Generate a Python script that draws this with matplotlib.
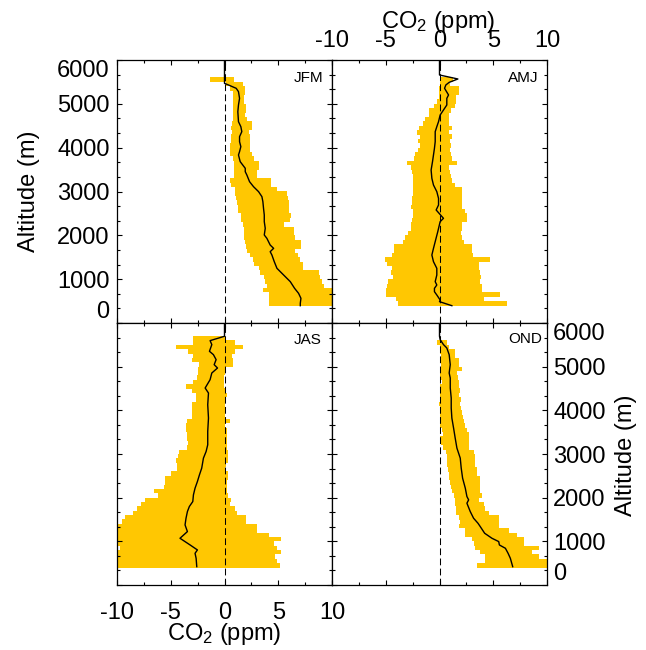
import numpy as np
import matplotlib
matplotlib.use("Agg")
import matplotlib.pyplot as plt
from matplotlib.ticker import MultipleLocator

plt.rcParams['font.family'] = ['Liberation Sans', 'DejaVu Sans']
plt.rcParams['mathtext.fontset'] = 'custom'
plt.rcParams['mathtext.rm'] = 'Liberation Sans'
plt.rcParams['mathtext.it'] = 'Liberation Sans:italic'
plt.rcParams['axes.unicode_minus'] = False

# ---------------- data ----------------
# altitude bins (m), 100 m wide, listed top -> bottom (bin centres)
bins_52 = np.arange(5550, 400, -100)   # 5550 ... 450
bins_53 = np.arange(5650, 400, -100)   # 5650 ... 450

# JFM range (ppm), left / right edge of the yellow band per bin
jfm_lo = [-1.34, 0.10, 0.53, 0.78, 0.78, 0.78, 0.78, 0.78, 0.78, 0.78,
          0.68, 0.62, 0.68, 0.59, 0.62, 0.53, 0.53, 0.53, 0.75, 0.84,
          0.84, 0.84, 0.93, 0.47, 0.59, 0.99, 0.99, 1.09, 1.15, 1.24,
          1.30, 1.55, 1.55, 1.71, 1.77, 1.77, 1.86, 1.93, 2.02, 2.08,
          2.39, 2.64, 2.70, 3.17, 3.32, 3.63, 3.79, 3.94, 3.54, 4.10,
          4.10, 4.10]
jfm_hi = [0.93, 1.70, 1.93, 1.93, 1.77, 1.77, 2.02, 2.02, 1.93, 2.08,
          2.55, 2.55, 2.24, 2.39, 2.33, 2.39, 2.39, 2.55, 2.76, 3.17,
          3.23, 3.01, 3.01, 4.35, 4.35, 4.88, 5.81, 5.87, 5.96, 5.96,
          5.96, 6.21, 6.12, 5.50, 6.43, 6.43, 6.58, 7.11, 7.11, 6.58,
          6.80, 7.05, 7.27, 7.27, 8.82, 8.91, 9.07, 9.22, 10.5, 10.5,
          10.5, 10.5]
jfm_mean_alt = [6000, 5468, 5430, 5354, 5278, 5125, 4973, 4821, 4593, 4479,
                4365, 4251, 4137, 4023, 3909, 3833, 3681, 3529, 3452, 3376,
                3224, 3110, 2996, 2882, 2768, 2616, 2464, 2312, 2160, 2008,
                1932, 1779, 1703, 1627, 1551, 1399, 1247, 1095, 943, 791,
                677, 563, 449, 395]
jfm_mean = [0, 0, 0.37, 1.09, 1.30, 1.40, 1.30, 1.24, 1.30, 1.52,
            1.61, 1.40, 1.40, 1.52, 1.40, 1.30, 1.46, 1.93, 1.93, 2.08,
            2.33, 2.70, 3.17, 3.48, 3.57, 3.63, 3.70, 3.70, 3.79, 3.70,
            3.94, 4.25, 4.57, 4.25, 4.41, 4.63, 4.88, 5.50, 6.12, 6.52,
            6.89, 7.11, 7.05, 7.05]

# AMJ
amj_lo = [0.00, 0.00, -0.09, -0.09, -0.09, -0.25, -0.47, -1.02, -1.02, -1.34,
          -1.58, -1.89, -2.11, -1.86, -2.02, -1.80, -1.96, -2.27, -2.33, -2.98,
          -2.64, -2.58, -2.42, -2.48, -2.42, -2.48, -2.48, -2.58, -2.52, -2.64,
          -2.48, -2.42, -2.52, -2.64, -2.64, -2.89, -3.20, -3.35, -4.22, -4.19,
          -4.44, -5.06, -4.91, -4.44, -4.50, -4.35, -4.75, -4.91, -4.97, -4.97,
          -4.04, -3.88]
amj_hi = [1.30, 1.00, 1.77, 1.83, 1.55, 1.55, 1.46, 1.09, 0.90, 0.84,
          0.84, 1.15, 0.84, 1.15, 0.99, 1.09, 0.99, 1.09, 1.15, 1.61,
          0.84, 0.99, 1.09, 1.15, 1.46, 2.08, 2.08, 2.08, 2.08, 2.08,
          2.39, 2.55, 2.55, 2.08, 2.08, 2.02, 2.08, 2.24, 3.01, 3.01,
          3.07, 4.72, 3.70, 3.70, 3.79, 3.88, 3.79, 3.94, 3.94, 5.65,
          4.10, 6.27]
amj_mean_alt = [6000, 5658, 5567, 5490, 5430, 5354, 5202, 5125, 4973, 4859,
                4745, 4593, 4479, 4365, 4137, 3985, 3681, 3490, 3300, 3148,
                2996, 2844, 2692, 2578, 2388, 2312, 2084, 1856, 1703, 1551,
                1399, 1247, 1095, 943, 867, 791, 715, 639, 525, 487, 395]
amj_mean = [0, 0, 1.71, 0.90, 0.59, 0.47, 0.84, 0.68, 0.68, 0.37,
            0.06, -0.09, -0.25, -0.40, -0.40, -0.47, -0.65, -0.78, -0.71, -0.56,
            -0.25, -0.09, -0.09, -0.31, 0.37, 0.06, -0.16, -0.40, -0.56, -0.71,
            -0.56, -0.25, -0.25, -0.40, -0.25, -0.47, -0.47, -0.25, 0.06, 0.0,
            1.15]

# JAS
jas_lo = [-2.89, -2.89, -4.51, -3.36, -2.89, -3.05, -2.33, -2.43, -2.49, -2.52,
          -2.89, -3.58, -3.05, -2.64, -2.64, -3.05, -3.05, -3.05, -3.05, -3.45,
          -3.58, -3.58, -3.45, -3.51, -3.36, -3.45, -4.20, -4.29, -4.51, -4.45,
          -4.45, -4.98, -5.54, -5.54, -5.63, -6.56, -6.16, -7.40, -7.78, -8.18,
          -8.55, -9.27, -9.58, -10.5, -10.5, -10.5, -10.5, -10.5, -9.74, -9.89,
          -10.5, -10.5, -10.5]
jas_hi = [0.06, 1.00, 1.71, 1.00, 0.68, 0.78, 0.78, 0.06, 0.06, -0.03,
          -0.03, -0.03, 0.16, 0.22, 0.00, 0.00, 0.00, 0.00, 0.00, 0.53,
          0.06, 0.22, 0.22, 0.22, 0.22, 0.22, 0.37, 0.37, 0.37, 0.16,
          0.06, 0.37, 0.37, 0.22, 0.22, 0.22, 0.37, 0.59, 0.53, 1.00,
          1.15, 2.02, 2.02, 3.02, 3.02, 4.10, 5.26, 4.57, 4.88, 5.26,
          4.73, 4.88, 5.19]
jas_mean_alt = [6000, 5696, 5596, 5505, 5352, 5275, 5161, 5046, 4969, 4855,
                4702, 4511, 4396, 4128, 3823, 3517, 3211, 3058, 2905, 2676,
                2523, 2370, 2217, 2064, 1911, 1797, 1682, 1529, 1376, 1223,
                1070, 917, 803, 726, 612, 420]
jas_mean = [0, 0, -1.34, -1.18, -1.40, -1.03, -0.78, -0.96, -0.65, -1.18,
            -1.34, -1.80, -1.49, -1.56, -1.49, -1.56, -1.56, -1.71, -1.96, -2.12,
            -2.33, -2.52, -2.74, -2.89, -2.95, -3.27, -3.45, -3.58, -3.67, -3.45,
            -4.14, -3.20, -2.52, -2.74, -2.64, -2.58]

# OND
ond_lo = [-0.25, 0.00, 0.06, 0.16, 0.06, 0.16, 0.06, 0.06, 0.06, 0.22,
          0.06, 0.06, 0.06, 0.06, -0.03, 0.00, 0.06, 0.00, 0.06, 0.06,
          0.22, 0.37, 0.06, 0.16, 0.37, 0.59, 0.68, 0.68, 0.68, 0.78,
          0.84, 0.84, 1.00, 1.09, 1.15, 1.31, 1.46, 1.46, 1.56, 1.56,
          1.77, 1.87, 1.84, 2.33, 2.40, 3.02, 3.23, 3.33, 3.79, 4.20,
          4.20, 3.48]
ond_hi = [0.68, 0.84, 1.40, 1.46, 1.77, 1.84, 2.08, 1.62, 1.71, 1.77,
          1.77, 1.93, 1.84, 2.02, 1.93, 2.02, 2.08, 2.15, 2.24, 2.33,
          2.55, 2.71, 2.77, 2.77, 2.77, 3.17, 3.33, 3.33, 3.33, 3.48,
          3.48, 3.79, 3.79, 3.79, 3.79, 3.95, 3.70, 4.10, 4.26, 4.57,
          5.50, 5.50, 5.57, 6.44, 7.22, 7.84, 7.84, 9.24, 8.62, 9.24,
          10.5, 10.5]
ond_mean_alt = [6000, 5696, 5620, 5505, 5428, 5275, 5046, 4855, 4740, 4511,
                4281, 4052, 3823, 3593, 3364, 3135, 2905, 2676, 2446, 2217,
                2026, 1950, 1873, 1682, 1529, 1414, 1338, 1185, 1070, 994,
                917, 841, 726, 612, 420]
ond_mean = [0, 0, 0.06, 0.37, 0.68, 0.90, 1.00, 0.90, 1.00, 1.00,
            1.09, 1.09, 1.15, 1.31, 1.46, 1.62, 1.93, 2.02, 2.15, 2.40,
            2.55, 2.71, 2.55, 2.86, 3.17, 3.58, 3.79, 4.20, 4.88, 5.51,
            5.57, 6.13, 6.38, 6.59, 6.81]

season_names = ['JFM', 'AMJ', 'JAS', 'OND']
YELLOW = '#FFC702'
FS = 17

# ---------------- layout ----------------
W, H = 646, 650
fig = plt.figure(figsize=(W / 100, H / 100), dpi=100)


def rect(l, t, r, b):
    return [l / W, 1 - b / H, (r - l) / W, (b - t) / H]


ax_tl = fig.add_axes(rect(117, 60, 332, 323))
ax_tr = fig.add_axes(rect(332, 60, 547, 323))
ax_bl = fig.add_axes(rect(117, 323, 332, 585))
ax_br = fig.add_axes(rect(332, 323, 547, 585))

panels = [
    (ax_tl, bins_52, jfm_lo, jfm_hi, jfm_mean_alt, jfm_mean, season_names[0], 0.958, 0.932),
    (ax_tr, bins_52, amj_lo, amj_hi, amj_mean_alt, amj_mean, season_names[1], 0.958, 0.932),
    (ax_bl, bins_53, jas_lo, jas_hi, jas_mean_alt, jas_mean, season_names[2], 0.953, 0.935),
    (ax_br, bins_52, ond_lo, ond_hi, ond_mean_alt, ond_mean, season_names[3], 0.977, 0.939),
]

for ax, alt, lo, hi, malt, mval, name, tx, ty in panels:
    lo = np.asarray(lo)
    hi = np.asarray(hi)
    ax.barh(alt, hi - lo, left=lo, height=102, color=YELLOW,
            linewidth=0, antialiased=False, zorder=1)
    ax.axvline(0, color='black', lw=0.75, linestyle=(0, (6.5, 3.2)), zorder=2)
    ax.plot(mval, malt, color='black', lw=1.0, zorder=3)
    ax.set_xlim(-10, 10)
    ax.set_ylim(0, 6000)
    ax.xaxis.set_major_locator(MultipleLocator(5))
    ax.xaxis.set_minor_locator(MultipleLocator(2.5))
    ax.yaxis.set_major_locator(MultipleLocator(1000))
    ax.yaxis.set_minor_locator(MultipleLocator(1000 / 3))
    ax.tick_params(which='both', direction='in', top=True, bottom=True,
                   left=True, right=True, labelbottom=False, labelleft=False,
                   labeltop=False, labelright=False, width=0.8, labelsize=FS)
    ax.tick_params(which='major', length=3.6)
    ax.tick_params(which='minor', length=1.9)
    for sp in ax.spines.values():
        sp.set_linewidth(0.9)
    ax.text(tx, ty, name, transform=ax.transAxes, ha='right', va='center',
            fontsize=11)

ax_tl.tick_params(axis='y', labelleft=True, pad=5.3)
ax_tr.tick_params(axis='x', labeltop=True, pad=6.0)
ax_bl.tick_params(axis='x', labelbottom=True, pad=12.5)
ax_br.tick_params(axis='y', labelright=True, pad=4.4)

for ax in (ax_tl, ax_br):
    for lbl in ax.get_yticklabels():
        if lbl.get_text() == '6000':
            lbl.set_va('top')
        elif lbl.get_text() == '0':
            lbl.set_va('bottom')

fig.text(28.5 / W, 1 - 191.5 / H, 'Altitude (m)', rotation=90,
         ha='center', va='center', fontsize=FS)
fig.text(626 / W, 1 - 455 / H, 'Altitude (m)', rotation=90,
         ha='center', va='center', fontsize=FS)
fig.text(438 / W, 1 - 22 / H, r'CO$_2$ (ppm)', ha='center', va='center',
         fontsize=FS)
fig.text(224 / W, 1 - 634 / H, r'CO$_2$ (ppm)', ha='center', va='center',
         fontsize=FS)

fig.savefig('out.png', dpi=100)
